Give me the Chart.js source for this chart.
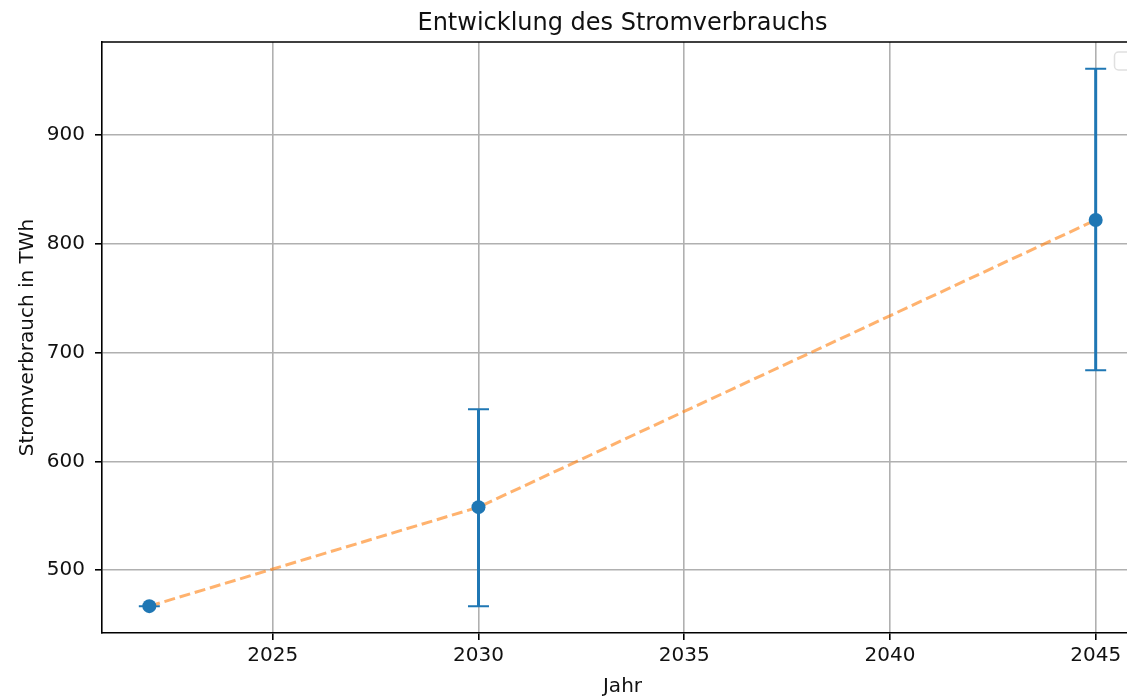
<!DOCTYPE html>
<html>
<head>
<meta charset="utf-8">
<script src="https://cdn.jsdelivr.net/npm/chart.js@4"></script>
<style>
  html, body { margin: 0; padding: 0; background: #fff; overflow: hidden; }
  canvas { display: block; }
</style>
</head>
<body>
<canvas id="chart" width="1150" height="700"></canvas>
<script>
// Stromverbrauch: Punkte mit Fehlerbalken + gestrichelte Verbindungslinie
const years = [2022, 2030, 2045];
const consumption = [467, 558, 822];
const lowerBound = [467, 467, 684];
const upperBound = [467, 648, 961];
const xTicks = [2025, 2030, 2035, 2040, 2045];
const yTicks = [500, 600, 700, 800, 900];

const BLUE = "#1f77b4";
const ORANGE = "rgba(255,127,14,0.6)";
const FONT = "'DejaVu Sans', sans-serif";

// matplotlib-style 5% margins around the data
const xSpan = Math.max(...years) - Math.min(...years);
const ySpan = Math.max(...upperBound) - Math.min(...lowerBound);
const xMin = Math.min(...years) - 0.05 * xSpan, xMax = Math.max(...years) + 0.05 * xSpan;
const yMin = Math.min(...lowerBound) - 0.05 * ySpan, yMax = Math.max(...upperBound) + 0.05 * ySpan;

const decor = {
  id: "decor",
  beforeDatasetsDraw(chart) {
    const { ctx, scales: { x, y } } = chart;
    ctx.save();
    ctx.strokeStyle = BLUE;
    years.forEach((yr, i) => {
      const px = x.getPixelForValue(yr);
      const lo = y.getPixelForValue(lowerBound[i]);
      const hi = y.getPixelForValue(upperBound[i]);
      if (lo !== hi) {
        ctx.lineWidth = 3;
        ctx.beginPath(); ctx.moveTo(px, lo); ctx.lineTo(px, hi); ctx.stroke();
      }
      ctx.lineWidth = 2;
      ctx.beginPath();
      ctx.moveTo(px - 10.5, lo); ctx.lineTo(px + 10.5, lo);
      ctx.moveTo(px - 10.5, hi); ctx.lineTo(px + 10.5, hi);
      ctx.stroke();
    });
    ctx.restore();
  },
  afterDraw(chart) {
    const { ctx, chartArea: a } = chart;
    ctx.save();
    // top + right spine
    ctx.strokeStyle = "#000"; ctx.lineWidth = 1.6;
    ctx.beginPath();
    ctx.moveTo(a.left, a.top); ctx.lineTo(a.right, a.top); ctx.lineTo(a.right, a.bottom);
    ctx.stroke();
    // empty legend frame (upper right)
    ctx.fillStyle = "rgba(255,255,255,0.8)";
    ctx.strokeStyle = "#e0e0e0"; ctx.lineWidth = 1.5;
    ctx.beginPath();
    ctx.roundRect(a.right - 10 - 18.5, a.top + 10, 18.5, 18, 4);
    ctx.fill(); ctx.stroke();
    // title and axis labels
    ctx.fillStyle = "#111";
    ctx.textAlign = "center"; ctx.textBaseline = "alphabetic";
    ctx.font = "24px " + FONT;
    ctx.fillText("Entwicklung des Stromverbrauchs", (a.left + a.right) / 2, 30);
    ctx.font = "20px " + FONT;
    ctx.fillText("Jahr", (a.left + a.right) / 2, 692);
    ctx.translate(33, (a.top + a.bottom) / 2);
    ctx.rotate(-Math.PI / 2);
    ctx.fillText("Stromverbrauch in TWh", 0, 0);
    ctx.restore();
  }
};

new Chart(document.getElementById("chart"), {
  type: "line",
  data: {
    datasets: [
      {
        data: years.map((yr, i) => ({ x: yr, y: consumption[i] })),
        borderColor: ORANGE,
        borderWidth: 3,
        borderDash: [11, 4.8],
        pointRadius: 0,
        fill: false,
        order: 2,
      },
      {
        data: years.map((yr, i) => ({ x: yr, y: consumption[i] })),
        showLine: false,
        pointRadius: 7,
        pointBackgroundColor: BLUE,
        pointBorderWidth: 0,
        order: 1,
      },
    ],
  },
  options: {
    responsive: false,
    animation: false,
    devicePixelRatio: 1,
    layout: { padding: { top: 42, right: 5.5, left: 0, bottom: 0 } },
    plugins: { legend: { display: false }, tooltip: { enabled: false } },
    scales: {
      x: {
        type: "linear",
        min: xMin,
        max: xMax,
        afterBuildTicks: s => { s.ticks = xTicks.map(v => ({ value: v })); },
        afterFit: s => { s.height = 67; },
        ticks: {
          callback: v => String(v),
          font: { family: FONT, size: 20 },
          color: "#111",
          padding: 4,
          maxRotation: 0,
          autoSkip: false,
        },
        grid: { color: "#b0b0b0", lineWidth: 1.6, tickLength: 7, tickColor: "#000", tickWidth: 1.6 },
        border: { display: true, color: "#000", width: 1.6 },
      },
      y: {
        type: "linear",
        min: yMin,
        max: yMax,
        afterBuildTicks: s => { s.ticks = yTicks.map(v => ({ value: v })); },
        afterFit: s => { s.width = 102; },
        ticks: {
          callback: v => String(v),
          font: { family: FONT, size: 20 },
          color: "#111",
          padding: 10,
        },
        grid: { color: "#b0b0b0", lineWidth: 1.6, tickLength: 7, tickColor: "#000", tickWidth: 1.6 },
        border: { display: true, color: "#000", width: 1.6 },
      },
    },
  },
  plugins: [decor],
});
</script>
</body>
</html>
